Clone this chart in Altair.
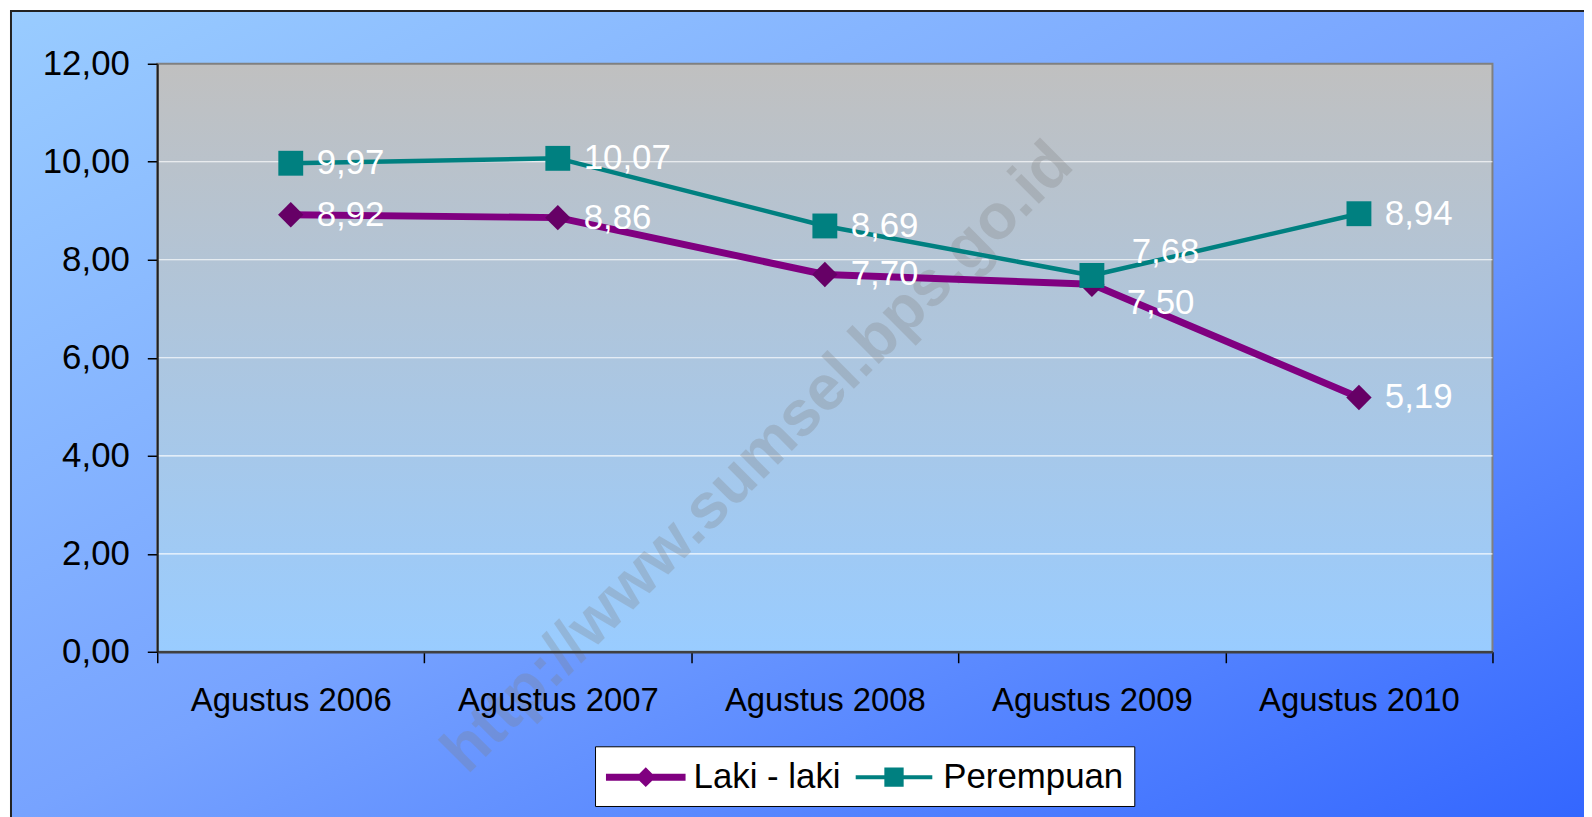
import altair as alt
import pandas as pd

# ---------------- data ----------------
years = ["Agustus 2006", "Agustus 2007", "Agustus 2008", "Agustus 2009", "Agustus 2010"]
laki = [8.92, 8.86, 7.70, 7.50, 5.19]
perempuan = [9.97, 10.07, 8.69, 7.68, 8.94]
series_names = ["Laki - laki", "Perempuan"]
y_ticks = [0, 2, 4, 6, 8, 10, 12]
grid_values = [2, 4, 6, 8, 10]
watermark_text = "http://www.sumsel.bps.go.id"

rows = []
for name, vals in zip(series_names, [laki, perempuan]):
    for yr, v in zip(years, vals):
        rows.append({"tahun": yr, "seri": name, "nilai": v})
df = pd.DataFrame(rows)
grid_df = pd.DataFrame({"nilai": grid_values})
one = pd.DataFrame({"a": [0]})

# ---------------- styles ----------------
FONT = "Liberation Sans"
W, H = 1342, 591
PURPLE, PURPLE_DARK, TEAL = "#800080", "#660066", "#008080"

outer_grad = alt.LinearGradient(
    gradient="linear", x1=0, y1=0, x2=1, y2=1,
    stops=[alt.GradientStop(color="#99CCFF", offset=0),
           alt.GradientStop(color="#77A3FF", offset=0.5),
           alt.GradientStop(color="#3366FF", offset=1)])
plot_grad = alt.LinearGradient(
    gradient="linear", x1=0, y1=0, x2=0, y2=1,
    stops=[alt.GradientStop(color="#C0C0C0", offset=0),
           alt.GradientStop(color="#99CCFF", offset=1)])

# legend symbols: line segment with marker (unit = 20px)
legend_paths = [
    "M-1,-0.175L3,-0.175L3,0.175L-1,0.175Z M1,-0.5L1.5,0L1,0.5L0.5,0Z",
    "M-1,-0.1L2.85,-0.1L2.85,0.1L-1,0.1Z M0.44,-0.48L1.41,-0.48L1.41,0.48L0.44,0.48Z",
]

x_axis = alt.Axis(labelAngle=0, labelFontSize=33, labelFont=FONT, labelColor="black",
                  labelPadding=22, labelLimit=400, tickSize=11, tickColor="black", tickWidth=1.5,
                  tickBand="extent", domainColor="#404040", domainWidth=2.5,
                  grid=False, zindex=1)
y_axis = alt.Axis(values=y_ticks, labelExpr="replace(format(datum.value, '.2f'), '.', ',')",
                  labelFontSize=35, labelFont=FONT, labelColor="black", labelPadding=18,
                  labelLimit=400, tickSize=10, tickColor="black", tickWidth=1.5,
                  domainColor="#202020", domainWidth=2, grid=False, zindex=1)
y_scale = alt.Scale(domain=[0, 12], nice=False, zero=True)

x_enc = alt.X("tahun:N", sort=years, title=None,
              scale=alt.Scale(type="band", paddingInner=0, paddingOuter=0), axis=x_axis)
y_enc = alt.Y("nilai:Q", title=None, scale=y_scale, axis=y_axis)

# ---------------- layers ----------------
outer_bg = alt.Chart(one).mark_rect(fill=outer_grad, stroke="#222222", strokeWidth=2).encode(
    x=alt.value(-147), x2=alt.value(W + 97), y=alt.value(-53), y2=alt.value(H + 169))

plot_bg = alt.Chart(one).mark_rect(fill=plot_grad, stroke="#808080", strokeWidth=2).encode(
    x=alt.value(0), x2=alt.value(W), y=alt.value(0), y2=alt.value(H))

grid = alt.Chart(grid_df).mark_rule(color="white", strokeWidth=1.2, opacity=0.9).encode(y=y_enc)

wm = alt.Chart(one).mark_text(
    text=watermark_text, angle=315, fontSize=64, fontWeight="bold", font=FONT,
    color="#808080", opacity=0.28, align="center", baseline="middle").encode(
    x=alt.value(604), y=alt.value(396))

base = alt.Chart(df)
laki_df = base.transform_filter(alt.datum.seri == series_names[0])
per_df = base.transform_filter(alt.datum.seri == series_names[1])

line_l = laki_df.mark_line(color=PURPLE, strokeWidth=7, strokeJoin="round").encode(x=x_enc, y=y_enc)
line_p = per_df.mark_line(color=TEAL, strokeWidth=4.5, strokeJoin="round").encode(x=x_enc, y=y_enc)

diamonds = laki_df.mark_point(shape="diamond", filled=True, size=650, color=PURPLE_DARK,
                              opacity=1).encode(x=x_enc, y=y_enc)
squares = per_df.mark_point(shape="square", filled=True, size=625, color=TEAL,
                            opacity=1).encode(x=x_enc, y=y_enc)

lab = base.transform_calculate(label="replace(format(datum.nilai, '.2f'), '.', ',')")
text_kw = dict(align="left", baseline="middle", fontSize=35, font=FONT, color="white")
labels_main = lab.transform_filter(alt.datum.tahun != years[3]).mark_text(dx=26, **text_kw).encode(
    x=x_enc, y=y_enc, text="label:N")
labels_p = lab.transform_filter((alt.datum.tahun == years[3]) & (alt.datum.seri == series_names[1])).mark_text(
    dx=40, dy=-24, **text_kw).encode(x=x_enc, y=y_enc, text="label:N")
labels_l = lab.transform_filter((alt.datum.tahun == years[3]) & (alt.datum.seri == series_names[0])).mark_text(
    dx=35, dy=19, **text_kw).encode(x=x_enc, y=y_enc, text="label:N")

# legend-carrying layer, drawn underneath the plot background so its points stay hidden
legend_layer = base.mark_point(filled=True, opacity=1).encode(
    x=x_enc, y=y_enc,
    color=alt.Color("seri:N", scale=alt.Scale(domain=series_names, range=[PURPLE, TEAL]),
                    legend=alt.Legend(title=None, orient="none", legendX=440, legendY=686,
                                      direction="horizontal", fillColor="white", strokeColor="black",
                                      padding=11, labelFontSize=35, labelFont=FONT, labelColor="black",
                                      labelLimit=400, symbolSize=1600, symbolStrokeWidth=0,
                                      symbolOpacity=1, labelOffset=48, columnPadding=15)),
    shape=alt.Shape("seri:N", scale=alt.Scale(domain=series_names, range=legend_paths)),
)

chart = alt.layer(
    outer_bg, legend_layer, plot_bg, grid, wm, line_l, line_p, diamonds, squares,
    labels_main, labels_p, labels_l,
).properties(
    width=W, height=H,
    autosize=alt.AutoSizeParams(type="none"),
    padding={"left": 150, "top": 54, "right": 92, "bottom": 164},
).configure(font=FONT).configure_view(stroke=None)

chart.save("out.html", embed_options={"renderer": "svg", "actions": False})
